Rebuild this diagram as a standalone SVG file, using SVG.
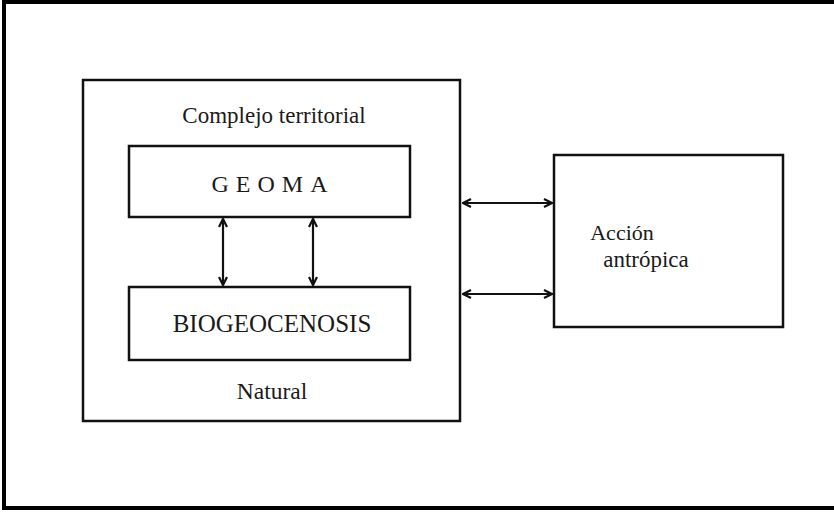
<svg xmlns="http://www.w3.org/2000/svg" width="834" height="512" viewBox="0 0 834 512">
<defs>
<style>
.box{fill:none;stroke:#111;stroke-width:2.5}
.conn{stroke:#111;stroke-width:2.2;fill:none}
.t{font-family:"Liberation Serif","Times New Roman",serif;fill:#1a1a1a;text-anchor:middle}
</style>
<marker id="ah" viewBox="0 0 10 10" refX="9" refY="5" markerWidth="10" markerHeight="10" markerUnits="userSpaceOnUse" orient="auto-start-reverse">
<path d="M1,1 L9,5 L1,9" fill="none" stroke="#111" stroke-width="2.2"/>
</marker>
</defs>
<rect width="834" height="512" fill="#fff"/>
<path d="M834 2 H4 V508 H834" fill="none" stroke="#000" stroke-width="4"/>
<g id="complejo">
<rect class="box" x="83" y="80" width="377" height="341"/>
<text class="t" x="274" y="123" font-size="23">Complejo territorial</text>
<text class="t" x="272" y="399" font-size="23.5">Natural</text>
</g>
<g id="geoma">
<rect class="box" x="129" y="146" width="281" height="71"/>
<text class="t" x="273" y="192" font-size="24" letter-spacing="7">GEOMA</text>
</g>
<g id="biogeocenosis">
<rect class="box" x="129" y="287" width="281" height="73"/>
<text class="t" x="272" y="332" font-size="25">BIOGEOCENOSIS</text>
</g>
<g id="accion">
<rect class="box" x="554" y="155" width="229" height="172"/>
<text class="t" x="622" y="240" font-size="22">Acción</text>
<text class="t" x="646" y="267" font-size="23">antrópica</text>
</g>
<g id="connectors">
<line class="conn" x1="223" y1="219" x2="223" y2="285" marker-start="url(#ah)" marker-end="url(#ah)"/>
<line class="conn" x1="313" y1="219" x2="313" y2="285" marker-start="url(#ah)" marker-end="url(#ah)"/>
<line class="conn" x1="463" y1="203" x2="552" y2="203" marker-start="url(#ah)" marker-end="url(#ah)"/>
<line class="conn" x1="463" y1="294" x2="552" y2="294" marker-start="url(#ah)" marker-end="url(#ah)"/>
</g>
</svg>
